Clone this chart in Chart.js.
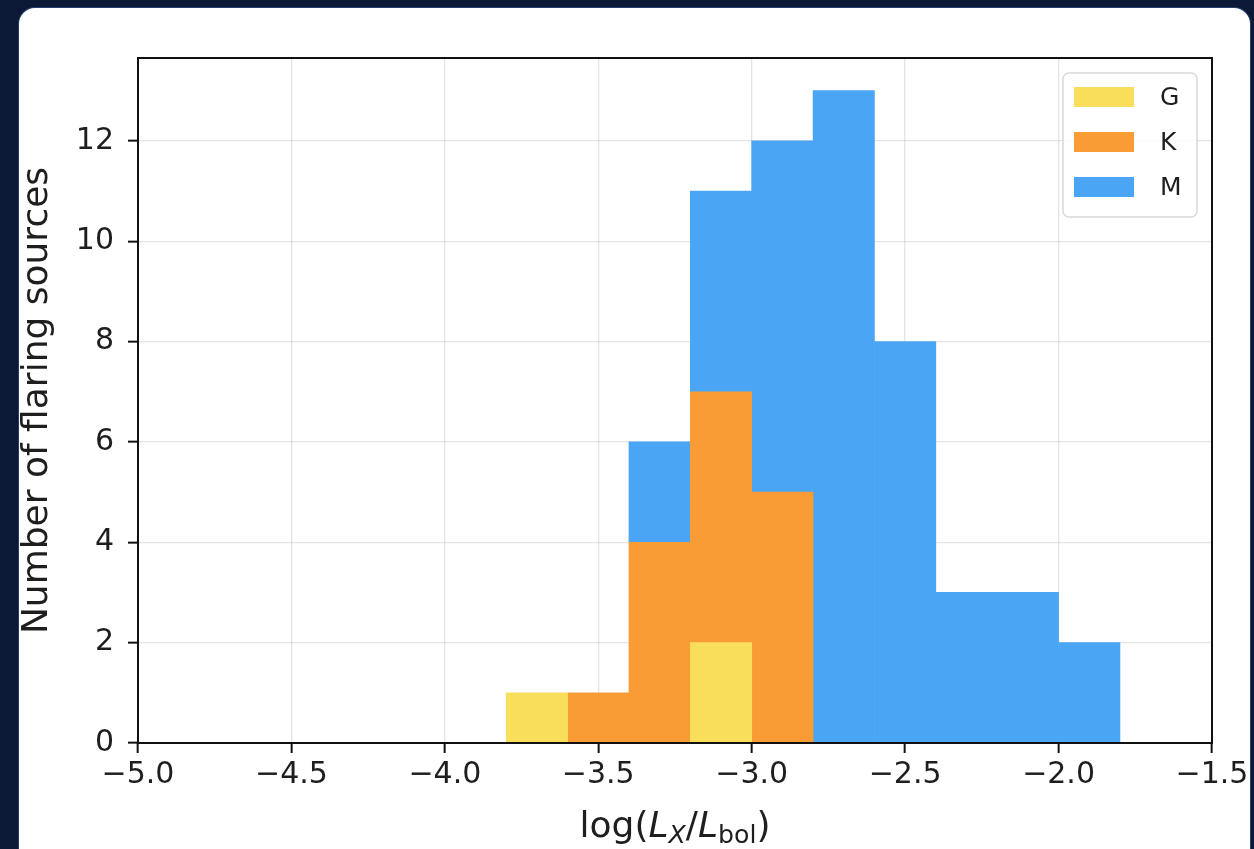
<!DOCTYPE html>
<html><head><meta charset="utf-8">
<script src="https://cdn.jsdelivr.net/npm/chart.js@4.4.1/dist/chart.umd.min.js"></script>
<style>
html,body{margin:0;padding:0;background:#0b1836;width:1254px;height:849px;overflow:hidden;}
#card{position:absolute;left:19px;top:8px;width:1231px;height:900px;background:#fff;border-radius:16px;box-shadow:0 0 0 1px #23406e;}
#wrap{position:absolute;left:0;top:0;width:1254px;height:849px;}
canvas{display:block;}
</style></head><body>
<div id="card"></div>
<div id="wrap"><canvas id="c" width="1254" height="849"></canvas></div>
<script>
// Histogram bin centres (bin width 0.2 in log(Lx/Lbol))
const binCenters = [-3.7, -3.5, -3.3, -3.1, -2.9, -2.7, -2.5, -2.3, -2.1, -1.9];
// Counts per spectral type (stacked: G bottom, K middle, M top)
const countsG = [1, 0, 0, 2, 0, 0, 0, 0, 0, 0];
const countsK = [0, 1, 4, 5, 5, 0, 0, 0, 0, 0];
const countsM = [0, 0, 2, 4, 7, 13, 8, 3, 3, 2];
const seriesLabels = ['G', 'K', 'M'];
const seriesColors = ['#F8DE5B', '#FA9C35', '#4AA6F5'];
const xTicksMin = -5.0, xTicksMax = -1.5, xTickStep = 0.5;
const yTickStep = 2, yMax = 13.65;
const yTitle = 'Number of flaring sources';

const FONT = '"DejaVu Sans", "Liberation Sans", sans-serif';
const TXT = '#1e1e1e';

function toData(arr){ return binCenters.map((x,i)=>({x:x, y: arr[i] === 0 ? null : arr[i]})); }

const frame = {
  id:'frame',
  afterDraw(chart){
    const {ctx, chartArea:a} = chart;
    ctx.save();
    ctx.strokeStyle = '#111';
    ctx.lineWidth = 2;
    ctx.strokeRect(a.left, a.top, a.right - a.left, a.bottom - a.top);
    ctx.restore();
  }
};

const insideLegend = {
  id:'insideLegend',
  afterDraw(chart){
    const {ctx, chartArea:a} = chart;
    const w = 134, h = 144;
    const x = a.right - 15 - w, y = a.top + 15;
    ctx.save();
    ctx.beginPath();
    ctx.roundRect(x, y, w, h, 6);
    ctx.fillStyle = 'rgba(255,255,255,0.85)';
    ctx.fill();
    ctx.strokeStyle = '#d9d9d9';
    ctx.lineWidth = 1.5;
    ctx.stroke();
    chart.data.datasets.forEach((ds, i) => {
      const cy = y + 24 + i * 45;
      ctx.fillStyle = ds.backgroundColor;
      ctx.fillRect(x + 11, cy - 10, 60, 20);
      ctx.fillStyle = TXT;
      ctx.font = '25px ' + FONT;
      ctx.textBaseline = 'middle';
      ctx.textAlign = 'left';
      ctx.fillText(ds.label, x + 97, cy + 1);
    });
    ctx.restore();
  }
};

const xTitle = {
  id:'xTitle',
  afterDraw(chart){
    const {ctx, chartArea:a} = chart;
    const s = 36, ss = s * 0.7;
    const parts = [
      {t:'log(', f: s + 'px ' + FONT, dy:0},
      {t:'L', f:'italic ' + s + 'px ' + FONT, dy:0},
      {t:'X', f:'italic ' + ss + 'px ' + FONT, dy:6},
      {t:'/', f: s + 'px ' + FONT, dy:0},
      {t:'L', f:'italic ' + s + 'px ' + FONT, dy:0},
      {t:'bol', f: ss + 'px ' + FONT, dy:6},
      {t:')', f: s + 'px ' + FONT, dy:0}
    ];
    ctx.save();
    let total = 0;
    parts.forEach(p => { ctx.font = p.f; p.w = ctx.measureText(p.t).width; total += p.w; });
    let x = (a.left + a.right) / 2 - total / 2;
    const base = 837;
    ctx.fillStyle = TXT;
    ctx.textBaseline = 'alphabetic';
    ctx.textAlign = 'left';
    parts.forEach(p => { ctx.font = p.f; ctx.fillText(p.t, x, base + p.dy); x += p.w; });
    ctx.restore();
  }
};

const gridCol = 'rgba(170,170,170,0.3)';

new Chart(document.getElementById('c'), {
  type:'bar',
  data:{
    datasets:[
      {label:seriesLabels[0], data:toData(countsG), backgroundColor:seriesColors[0]},
      {label:seriesLabels[1], data:toData(countsK), backgroundColor:seriesColors[1]},
      {label:seriesLabels[2], data:toData(countsM), backgroundColor:seriesColors[2]}
    ]
  },
  options:{
    responsive:false,
    animation:false,
    devicePixelRatio:1,
    datasets:{bar:{barPercentage:1, categoryPercentage:1, borderWidth:0}},
    layout:{padding:{top:58, right:42, bottom:0, left:0}},
    plugins:{legend:{display:false}, tooltip:{enabled:false}, title:{display:false}},
    scales:{
      x:{
        type:'linear', stacked:true, offset:false, z:1,
        min:xTicksMin, max:xTicksMax,
        ticks:{stepSize:xTickStep, includeBounds:false, autoSkip:false, maxRotation:0, minRotation:0,
          padding:4, color:TXT, font:{family:FONT, size:30},
          callback:(v)=>Number(v).toFixed(1).replace('-', '\u2212')},
        grid:{offset:false, color:gridCol, lineWidth:1.3, tickLength:10, tickColor:'#111', tickWidth:2},
        border:{display:false},
        title:{display:false},
        afterFit(s){ s.height = 106; s.paddingLeft = 0; s.paddingRight = 0; }
      },
      y:{
        stacked:true, min:0, max:yMax, z:1,
        ticks:{stepSize:yTickStep, includeBounds:false, padding:14, color:TXT, font:{family:FONT, size:30},
          callback:(v)=>String(v)},
        grid:{color:gridCol, lineWidth:1.3, tickLength:10, tickColor:'#111', tickWidth:2},
        border:{display:false},
        title:{display:true, text:yTitle, color:TXT, font:{family:FONT, size:36}, padding:{top:16, bottom:0}},
        afterFit(s){ s.width = 138; s.paddingTop = 0; s.paddingBottom = 0; }
      }
    }
  },
  plugins:[frame, insideLegend, xTitle]
});
</script>
</body></html>
